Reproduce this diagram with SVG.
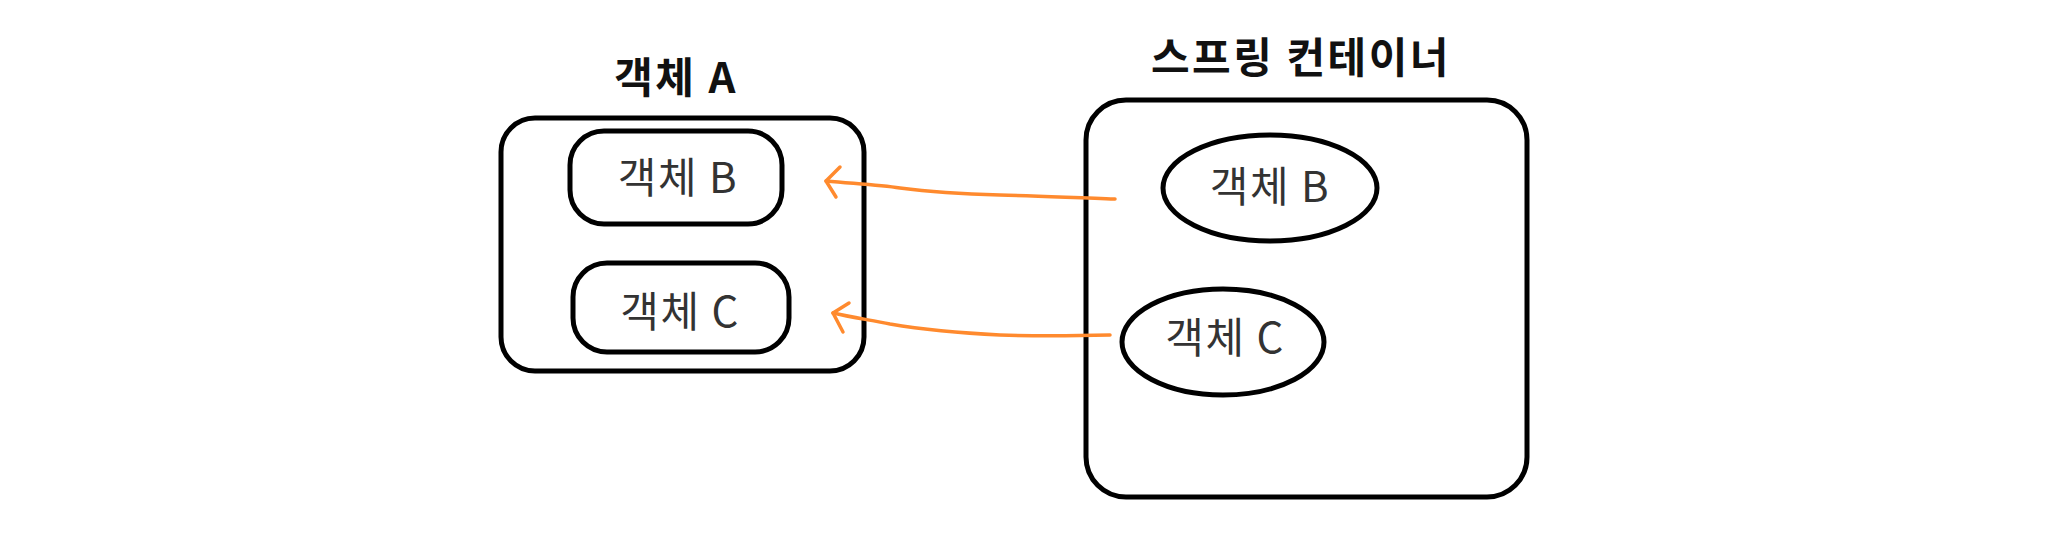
<svg xmlns="http://www.w3.org/2000/svg" width="2060" height="543" viewBox="0 0 2060 543">
<style>
.box{fill:#fff;stroke:#000;stroke-width:5}
.t{font-family:"Noto Sans CJK KR","Malgun Gothic",sans-serif;fill:#333;font-size:42px;letter-spacing:1.5px;text-anchor:middle}
.title{font-family:"Noto Sans CJK KR",sans-serif;fill:#111;font-size:42px;letter-spacing:2.5px;font-weight:bold;text-anchor:middle}
.arr{fill:none;stroke:#FF8A2E;stroke-width:3.5;stroke-linecap:round;stroke-linejoin:round}
</style>
<rect width="2060" height="543" fill="#fff"/>
<g id="objA">
<text class="title" x="676" y="93">객체 A</text>
<rect class="box" x="501" y="118" width="363" height="253" rx="34"/>
</g>
<g id="objA-B">
<rect class="box" x="570" y="131" width="212" height="93" rx="34"/>
<text class="t" x="678" y="193">객체 B</text>
</g>
<g id="objA-C">
<rect class="box" x="573" y="263" width="216" height="89" rx="34"/>
<text class="t" x="680" y="327">객체 C</text>
</g>
<g id="container">
<text class="title" x="1301" y="73">스프링 컨테이너</text>
<rect class="box" x="1086" y="100" width="441" height="397" rx="40"/>
</g>
<g id="conB">
<ellipse class="box" cx="1270" cy="188" rx="107" ry="53"/>
<text class="t" x="1270" y="202">객체 B</text>
</g>
<g id="conC">
<ellipse class="box" cx="1223" cy="342" rx="101" ry="53"/>
<text class="t" x="1225" y="353">객체 C</text>
</g>
<g id="connectors">
<path class="arr" d="M1115,199 C1080,198 1040,196 1000,195 C960,194 930,192 900,188 C880,185 860,184 826,181"/>
<path class="arr" d="M840,167 L826,181 L836,197"/>
<path class="arr" d="M1110,335 C1070,336 1030,336 1000,335 C960,333 920,329 890,324 C870,320 850,317 833,313"/>
<path class="arr" d="M849,303 L833,313 L843,332"/>
</g>
</svg>
